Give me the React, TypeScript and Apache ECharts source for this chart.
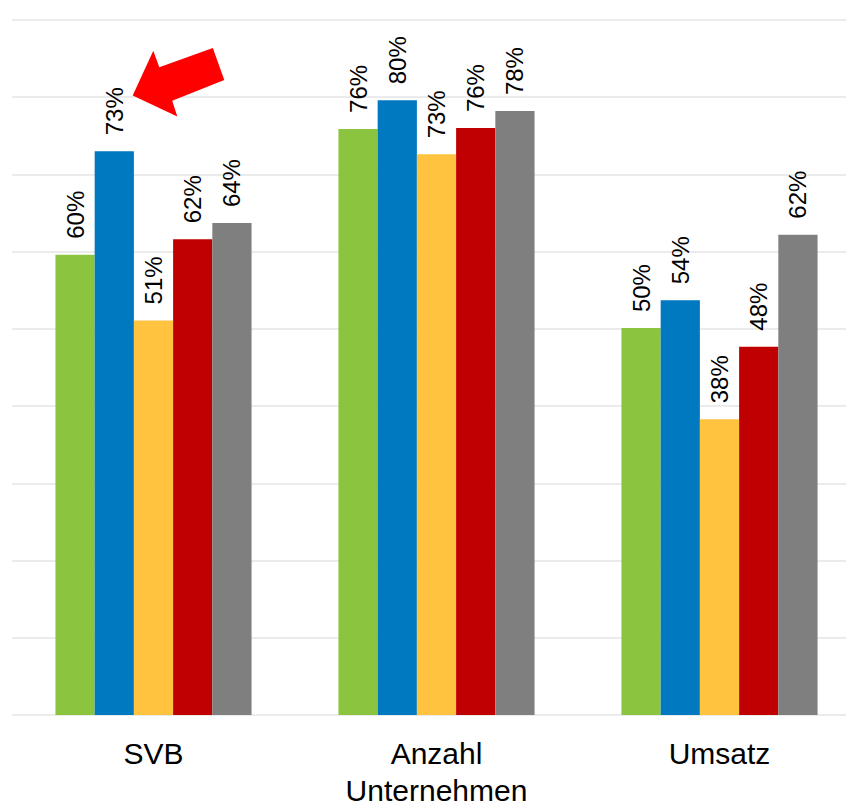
import React, { useEffect, useRef } from "react";
import * as echarts from "echarts";

const categories = ["SVB", "Anzahl\nUnternehmen", "Umsatz"];
const seriesA = [59.6, 75.9, 50.1];
const seriesB = [73.0, 79.6, 53.7];
const seriesC = [51.1, 72.6, 38.3];
const seriesD = [61.6, 76.0, 47.7];
const seriesE = [63.7, 78.2, 62.2];
const colors = ["#8BC540", "#0079C1", "#FFC340", "#C00000", "#7F7F7F"];

export default function App() {
  const ref = useRef<HTMLDivElement>(null);
  useEffect(() => {
    if (!ref.current) return;
    const chart = echarts.init(ref.current, undefined, { renderer: "svg" });
    const font = "Arial, 'Liberation Sans', sans-serif";
    const mk = (data: number[], color: string) => ({
      type: "bar",
      data,
      barGap: "0%",
      barCategoryGap: "30.7%",
      itemStyle: { color },
      label: {
        show: true,
        position: "top",
        rotate: 90,
        align: "left",
        verticalAlign: "middle",
        distance: 16,
        formatter: (p: any) => Math.round(p.value) + "%",
        fontSize: 24,
        fontFamily: font,
        color: "#000",
      },
    });
    chart.setOption({
      animation: false,
      grid: { left: 12, right: 0, top: 20, bottom: 89, containLabel: false },
      xAxis: {
        type: "category",
        data: categories,
        axisLine: { show: false },
        axisTick: { show: false },
        axisLabel: {
          fontSize: 30,
          fontFamily: font,
          color: "#000",
          margin: 20,
          lineHeight: 37,
          interval: 0,
        },
      },
      yAxis: {
        type: "value",
        min: 0,
        max: 90,
        interval: 10,
        axisLabel: { show: false },
        axisLine: { show: false },
        axisTick: { show: false },
        splitLine: { lineStyle: { color: "#E5E5E5", width: 1.5 } },
      },
      series: [
        mk(seriesA, colors[0]),
        mk(seriesB, colors[1]),
        mk(seriesC, colors[2]),
        mk(seriesD, colors[3]),
        mk(seriesE, colors[4]),
      ],
      graphic: [
        {
          type: "polygon",
          shape: {
            points: [
              [132.7, 95.5],
              [153.3, 50.7],
              [159.3, 67.2],
              [212.8, 48],
              [224.3, 80],
              [172.2, 100.8],
              [177.3, 116.4],
            ],
          },
          style: { fill: "#FF0000" },
          z: 100,
        },
      ],
    });
    return () => chart.dispose();
  }, []);
  return (
    <div
      style={{
        position: "fixed",
        left: 0,
        top: 0,
        width: 846,
        height: 809,
        overflow: "hidden",
        background: "#fff",
      }}
    >
      <div ref={ref} style={{ width: 861, height: 809 }} />
    </div>
  );
}
